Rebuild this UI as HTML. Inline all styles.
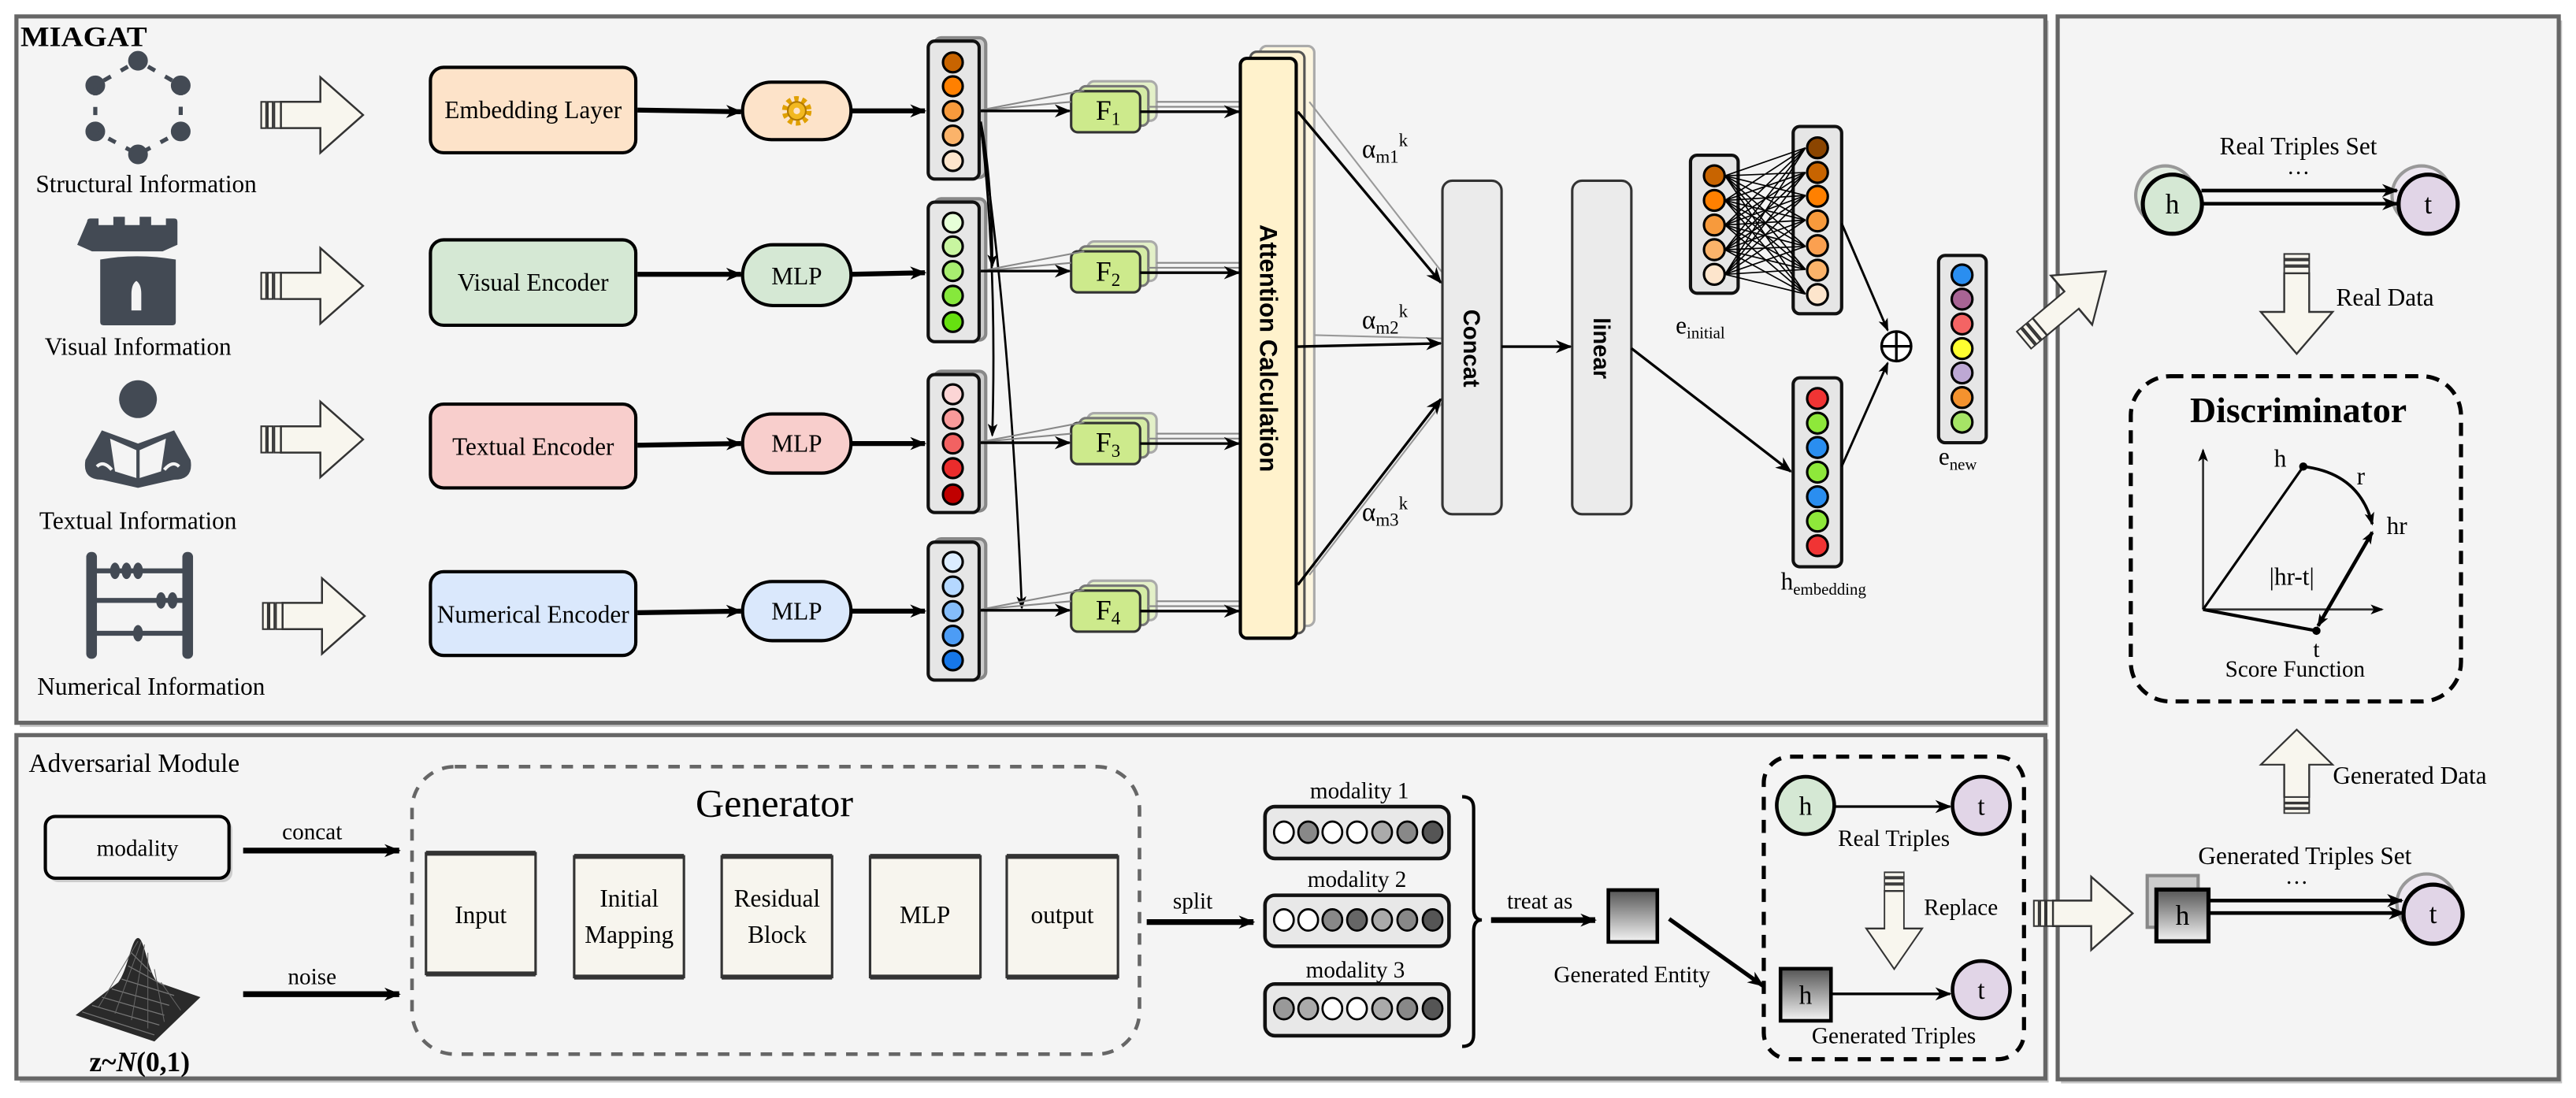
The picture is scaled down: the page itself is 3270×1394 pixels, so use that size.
<!DOCTYPE html>
<html><head><meta charset="utf-8"><style>
html,body{margin:0;padding:0;background:#fff;}
svg{display:block;font-family:"Liberation Serif","DejaVu Serif","Noto Serif CJK SC",serif;}
svg text{font-family:"Liberation Serif","DejaVu Serif","Noto Serif CJK SC",serif;fill:#000;}
svg text.sans{font-family:"Liberation Sans","DejaVu Sans",sans-serif;font-weight:bold;}
</style></head><body>
<svg width="3270" height="1394" viewBox="0 0 1568 668.4" preserveAspectRatio="none" xmlns="http://www.w3.org/2000/svg" font-family="Liberation Serif, DejaVu Serif, serif">
<defs>
<marker id="ah" markerWidth="10" markerHeight="8" refX="9" refY="4" orient="auto" markerUnits="userSpaceOnUse"><path d="M0,0 L10,4 L0,8 L3,4 Z" fill="#000"/></marker>
<marker id="ahs" markerWidth="8" markerHeight="6" refX="7" refY="3" orient="auto" markerUnits="userSpaceOnUse"><path d="M0,0 L8,3 L0,6 L2,3 Z" fill="#000"/></marker>
<marker id="ahb" markerWidth="8" markerHeight="6" refX="1" refY="3" orient="auto" markerUnits="userSpaceOnUse"><path d="M8,0 L0,3 L8,6 L6,3 Z" fill="#000"/></marker>
<linearGradient id="gsq" x1="0" y1="0" x2="0" y2="1"><stop offset="0" stop-color="#555"/><stop offset="1" stop-color="#f4f4f4"/></linearGradient>
<g id="harrow">
<rect x="0" y="-8" width="3" height="16" fill="#f8f6ee" stroke="#333" stroke-width="1"/>
<rect x="4" y="-8" width="3" height="16" fill="#f8f6ee" stroke="#333" stroke-width="1"/>
<rect x="8" y="-8" width="4" height="16" fill="#f8f6ee" stroke="#333" stroke-width="1"/>
<path d="M12,-8 L36,-8 L36,-23 L62,0 L36,23 L36,8 L12,8 Z" fill="#f8f6ee" stroke="#333" stroke-width="1.2"/>
</g>
</defs>

<!-- panels -->
<rect x="12" y="12.5" width="1235" height="430" fill="#c4c4c4"/>
<rect x="10" y="10" width="1235" height="430" fill="#f4f4f4" stroke="#666" stroke-width="2.5"/>
<rect x="12" y="450" width="1235" height="209" fill="#c4c4c4"/>
<rect x="10" y="447.5" width="1235" height="209" fill="#f4f4f4" stroke="#666" stroke-width="2.5"/>
<rect x="1254.5" y="12.5" width="305" height="647" fill="#c4c4c4"/>
<rect x="1252.5" y="10" width="305" height="647" fill="#f4f4f4" stroke="#666" stroke-width="2.5"/>

<text x="12.5" y="28" font-size="17" font-weight="bold" textLength="77" lengthAdjust="spacingAndGlyphs">MIAGAT</text>

<!-- Structural icon -->
<g fill="#434a54" stroke="#434a54">
<ellipse cx="84" cy="37" rx="5.5" ry="5.5"/><ellipse cx="110" cy="52" rx="5.5" ry="5.5"/><ellipse cx="110" cy="80" rx="5.5" ry="5.5"/>
<ellipse cx="84" cy="94" rx="5.5" ry="5.5"/><ellipse cx="58" cy="80" rx="5.5" ry="5.5"/><ellipse cx="58" cy="52" rx="5.5" ry="5.5"/>
<path d="M84,37 L110,52 L110,80 L84,94 L58,80 L58,52 Z" fill="none" stroke-width="2.5" stroke-dasharray="5 7" stroke-dashoffset="-7"/>
</g>
<text x="89" y="117" font-size="15" text-anchor="middle">Structural Information</text>
<!-- Tower icon -->
<g fill="#434a54">
<path d="M53,135 q0,-2 2,-2 h5 v4 h9 v-5 h7 v5 h9 v-5 h7 v5 h9 v-4 h5 q2,0 2,2 v14 l-9,4 h-43 l-9,-4 Z"/>
<path d="M61,158 q22,-4 46,0 v38 q0,2 -2,2 h-42 q-2,0 -2,-2 Z"/>
</g>
<path d="M80,189 v-10 q0,-6 3,-8 q3,2 3,8 v10 Z" fill="#f4f4f4"/>
<text x="84" y="216" font-size="15" text-anchor="middle">Visual Information</text>
<!-- Reader icon -->
<g fill="#434a54">
<circle cx="84" cy="243" r="11.5"/>
<path d="M62,262 L84,270 L106,262 L116,280 Q118,292 106,292 L84,297 L62,292 Q50,292 52,280 Z"/>
</g>
<path d="M67,267 L83,274 L83,291 L70,287 Z M101,267 L85,274 L85,291 L98,287 Z" fill="#f4f4f4"/>
<path d="M59,284 Q63,280 68,286 M109,284 Q105,280 100,286" stroke="#f4f4f4" stroke-width="2" fill="none"/>
<text x="84" y="322" font-size="15" text-anchor="middle">Textual Information</text>
<!-- Abacus icon -->
<g fill="#434a54">
<rect x="52.5" y="336" width="6.5" height="65" rx="3"/>
<rect x="111" y="336" width="6.5" height="65" rx="3"/>
<rect x="58" y="346" width="54" height="3"/><rect x="58" y="364" width="54" height="3"/><rect x="58" y="384" width="54" height="3"/>
<ellipse cx="70" cy="347.5" rx="3" ry="5"/><ellipse cx="77" cy="347.5" rx="3" ry="5"/><ellipse cx="84" cy="347.5" rx="3" ry="5"/>
<ellipse cx="98" cy="365.5" rx="3" ry="5"/><ellipse cx="105" cy="365.5" rx="3" ry="5"/>
<ellipse cx="84" cy="385.5" rx="3" ry="5"/>
</g>
<text x="92" y="423" font-size="15" text-anchor="middle">Numerical Information</text>

<!-- hollow arrows left -->
<use href="#harrow" transform="translate(159,70)"/>
<use href="#harrow" transform="translate(159,174)"/>
<use href="#harrow" transform="translate(159,267.5)"/>
<use href="#harrow" transform="translate(160,375)"/>

<!-- encoder boxes -->
<g stroke="#000" stroke-width="2">
<rect x="262" y="41" width="125" height="52" rx="8" fill="#fde3c9"/>
<rect x="262" y="146" width="125" height="52" rx="8" fill="#d5e8d4"/>
<rect x="262" y="246" width="125" height="51" rx="8" fill="#f8cecc"/>
<rect x="262" y="348" width="125" height="51" rx="8" fill="#dae8fc"/>
</g>
<text x="324.5" y="72" font-size="15" text-anchor="middle">Embedding Layer</text>
<text x="324.5" y="177" font-size="15" text-anchor="middle" fill="#334">Visual Encoder</text>
<text x="324.5" y="277" font-size="15" text-anchor="middle">Textual Encoder</text>
<text x="324.5" y="379" font-size="15" text-anchor="middle">Numerical Encoder</text>

<!-- ovals -->
<g stroke="#000" stroke-width="2">
<rect x="452" y="50" width="66" height="35" rx="17.5" fill="#fde3c9"/>
<rect x="452" y="149" width="66" height="37" rx="18.5" fill="#d5e8d4"/>
<rect x="452" y="252" width="66" height="36" rx="18" fill="#f8cecc"/>
<rect x="452" y="354" width="66" height="36" rx="18" fill="#dae8fc"/>
</g>
<circle cx="485" cy="67.5" r="7" fill="none" stroke="#e0a000" stroke-width="4" stroke-dasharray="2.5 2"/>
<circle cx="485" cy="67.5" r="5.5" fill="#f2b820" stroke="#b07800" stroke-width="1"/>
<circle cx="485" cy="67.5" r="2" fill="#fde3c9"/>
<text x="485" y="173" font-size="15" text-anchor="middle">MLP</text>
<text x="485" y="275" font-size="15" text-anchor="middle">MLP</text>
<text x="485" y="377" font-size="15" text-anchor="middle">MLP</text>

<!-- box to oval arrows -->
<g stroke="#000" stroke-width="3" marker-end="url(#ah)">
<line x1="388" y1="67" x2="451" y2="68"/>
<line x1="388" y1="167" x2="451" y2="167"/>
<line x1="388" y1="271" x2="451" y2="270"/>
<line x1="388" y1="373" x2="451" y2="372"/>
<line x1="518" y1="67.5" x2="563" y2="67.5"/>
<line x1="518" y1="167" x2="563" y2="166"/>
<line x1="518" y1="270" x2="563" y2="270"/>
<line x1="518" y1="372" x2="563" y2="372"/>
</g>

<!-- vector columns -->
<g stroke-width="2">
<rect x="569" y="23" width="31" height="85" rx="4" fill="#ccc" stroke="#888"/>
<rect x="565" y="25" width="31" height="84" rx="4" fill="#e6e6e6" stroke="#111"/>
<rect x="569" y="121" width="31" height="86" rx="4" fill="#ccc" stroke="#888"/>
<rect x="565" y="123" width="31" height="85" rx="4" fill="#e6e6e6" stroke="#111"/>
<rect x="569" y="226" width="31" height="85" rx="4" fill="#ccc" stroke="#888"/>
<rect x="565" y="228" width="31" height="84" rx="4" fill="#e6e6e6" stroke="#111"/>
<rect x="569" y="328" width="31" height="85" rx="4" fill="#ccc" stroke="#888"/>
<rect x="565" y="330" width="31" height="84" rx="4" fill="#e6e6e6" stroke="#111"/>
</g>
<g stroke="#000" stroke-width="1.5">
<circle cx="580" cy="38" r="6" fill="#c86400"/><circle cx="580" cy="52.5" r="6" fill="#ff8000"/><circle cx="580" cy="67.5" r="6" fill="#f79a3c"/><circle cx="580" cy="82.5" r="6" fill="#fbb36a"/><circle cx="580" cy="98" r="6" fill="#fde5cc"/>
<circle cx="580" cy="135.5" r="6" fill="#e6ffd8"/><circle cx="580" cy="150" r="6" fill="#c8f5a0"/><circle cx="580" cy="165" r="6" fill="#a8ee70"/><circle cx="580" cy="180" r="6" fill="#86e83c"/><circle cx="580" cy="196" r="6" fill="#66e010"/>
<circle cx="580" cy="240" r="6" fill="#fcd5d5"/><circle cx="580" cy="255" r="6" fill="#f89a9a"/><circle cx="580" cy="270" r="6" fill="#f26262"/><circle cx="580" cy="285" r="6" fill="#ea2c2c"/><circle cx="580" cy="301" r="6" fill="#c00000"/>
<circle cx="580" cy="342" r="6" fill="#dcedff"/><circle cx="580" cy="357" r="6" fill="#b5d8ff"/><circle cx="580" cy="372" r="6" fill="#85bdfa"/><circle cx="580" cy="387" r="6" fill="#4c9cf5"/><circle cx="580" cy="402" r="6" fill="#1677e8"/>
</g>

<!-- cross arrows -->
<g stroke="#000" stroke-width="1.3" fill="none" marker-end="url(#ahs)">
<path d="M597,74 Q604,110 604,162"/>
<path d="M597,76 Q607,160 604,265"/>
<path d="M597,78 Q615,200 622,370"/>
</g>

<!-- F boxes -->
<g>
<rect x="662" y="49.5" width="42" height="24" rx="4" fill="#e3f0c8" stroke="#aaa" stroke-width="1.5"/>
<rect x="657" y="52.5" width="42" height="24" rx="4" fill="#d5eca5" stroke="#777" stroke-width="1.5"/>
<rect x="652" y="55.5" width="42" height="25" rx="4" fill="#cdea8c" stroke="#333" stroke-width="1.5"/>
<rect x="662" y="147" width="42" height="24" rx="4" fill="#e3f0c8" stroke="#aaa" stroke-width="1.5"/>
<rect x="657" y="150" width="42" height="24" rx="4" fill="#d5eca5" stroke="#777" stroke-width="1.5"/>
<rect x="652" y="153" width="42" height="25" rx="4" fill="#cdea8c" stroke="#333" stroke-width="1.5"/>
<rect x="662" y="251.5" width="42" height="24" rx="4" fill="#e3f0c8" stroke="#aaa" stroke-width="1.5"/>
<rect x="657" y="254.5" width="42" height="24" rx="4" fill="#d5eca5" stroke="#777" stroke-width="1.5"/>
<rect x="652" y="257.5" width="42" height="25" rx="4" fill="#cdea8c" stroke="#333" stroke-width="1.5"/>
<rect x="662" y="353.5" width="42" height="24" rx="4" fill="#e3f0c8" stroke="#aaa" stroke-width="1.5"/>
<rect x="657" y="356.5" width="42" height="24" rx="4" fill="#d5eca5" stroke="#777" stroke-width="1.5"/>
<rect x="652" y="359.5" width="42" height="25" rx="4" fill="#cdea8c" stroke="#333" stroke-width="1.5"/>
</g>
<text x="667" y="73" font-size="17">F<tspan font-size="11" dy="3">1</tspan></text>
<text x="667" y="171" font-size="17">F<tspan font-size="11" dy="3">2</tspan></text>
<text x="667" y="275" font-size="17">F<tspan font-size="11" dy="3">3</tspan></text>
<text x="667" y="377" font-size="17">F<tspan font-size="11" dy="3">4</tspan></text>
<g stroke="#888" stroke-width="1">
<line x1="597" y1="67" x2="660" y2="55"/><line x1="597" y1="67" x2="652" y2="62"/>
<line x1="597" y1="165" x2="660" y2="153"/><line x1="597" y1="165" x2="652" y2="160"/>
<line x1="597" y1="269" x2="660" y2="257"/><line x1="597" y1="269" x2="652" y2="264"/>
<line x1="597" y1="371" x2="660" y2="359"/><line x1="597" y1="371" x2="652" y2="366"/>
<line x1="704" y1="62" x2="756" y2="62"/><line x1="699" y1="65" x2="756" y2="65"/>
<line x1="704" y1="160" x2="756" y2="160"/><line x1="699" y1="163" x2="756" y2="163"/>
<line x1="704" y1="264" x2="756" y2="264"/><line x1="699" y1="267" x2="756" y2="267"/>
<line x1="704" y1="366" x2="756" y2="366"/><line x1="699" y1="369" x2="756" y2="369"/>
</g>
<g stroke="#000" stroke-width="1.6" marker-end="url(#ah)">
<line x1="597" y1="67.5" x2="651" y2="67.5"/>
<line x1="597" y1="165" x2="651" y2="165"/>
<line x1="597" y1="269.5" x2="651" y2="269.5"/>
<line x1="597" y1="371.5" x2="651" y2="371.5"/>
<line x1="694" y1="68" x2="754" y2="68"/>
<line x1="694" y1="166" x2="754" y2="166"/>
<line x1="694" y1="270" x2="754" y2="270"/>
<line x1="694" y1="372" x2="754" y2="372"/>
</g>

<!-- Attention -->
<rect x="767" y="28" width="33" height="353" rx="4" fill="#fdf6e0" stroke="#aaa" stroke-width="1.5"/>
<rect x="761" y="31.5" width="33" height="354" rx="4" fill="#fcf0d0" stroke="#555" stroke-width="1.5"/>
<rect x="755" y="35.5" width="34" height="353" rx="4" fill="#fff2cc" stroke="#000" stroke-width="2"/>
<text class="sans" x="0" y="0" font-size="15" text-anchor="middle" transform="translate(767,212) rotate(90)">Attention Calculation</text>

<!-- to concat -->
<g stroke="#999" stroke-width="1">
<line x1="797" y1="62" x2="878" y2="166"/><line x1="800" y1="204" x2="878" y2="206"/><line x1="797" y1="350" x2="878" y2="245"/>
</g>
<g stroke="#000" stroke-width="1.6" marker-end="url(#ah)">
<line x1="790" y1="68" x2="877" y2="172"/>
<line x1="790" y1="211" x2="877" y2="209"/>
<line x1="790" y1="356" x2="877" y2="243"/>
</g>
<text x="829" y="96" font-size="16">α<tspan font-size="11" dy="3">m1</tspan><tspan font-size="11" dy="-10">k</tspan></text>
<text x="829" y="200" font-size="16">α<tspan font-size="11" dy="3">m2</tspan><tspan font-size="11" dy="-10">k</tspan></text>
<text x="829" y="317" font-size="16">α<tspan font-size="11" dy="3">m3</tspan><tspan font-size="11" dy="-10">k</tspan></text>

<rect x="878" y="110" width="36" height="203" rx="6" fill="#ebebeb" stroke="#333" stroke-width="1.5"/>
<rect x="957" y="110" width="36" height="203" rx="6" fill="#ebebeb" stroke="#333" stroke-width="1.5"/>
<text class="sans" x="0" y="0" font-size="14" text-anchor="middle" transform="translate(891,212) rotate(90)">Concat</text>
<text class="sans" x="0" y="0" font-size="14" text-anchor="middle" transform="translate(970,212) rotate(90)">linear</text>
<g stroke="#000" stroke-width="1.6" marker-end="url(#ah)">
<line x1="914" y1="211" x2="956" y2="211"/>
<line x1="993" y1="212" x2="1090" y2="287"/>
</g>

<!-- e_initial -->
<rect x="1029" y="94.5" width="29" height="84" rx="4" fill="#e6e6e6" stroke="#111" stroke-width="2"/>
<rect x="1091.5" y="77" width="29.5" height="114" rx="4" fill="#e6e6e6" stroke="#111" stroke-width="2"/>
<path stroke="#000" stroke-width="0.8" fill="none" d="
M1050,107L1099,90M1050,107L1099,105M1050,107L1099,119M1050,107L1099,134M1050,107L1099,150M1050,107L1099,164M1050,107L1099,179
M1050,122L1099,90M1050,122L1099,105M1050,122L1099,119M1050,122L1099,134M1050,122L1099,150M1050,122L1099,164M1050,122L1099,179
M1050,137L1099,90M1050,137L1099,105M1050,137L1099,119M1050,137L1099,134M1050,137L1099,150M1050,137L1099,164M1050,137L1099,179
M1050,152L1099,90M1050,152L1099,105M1050,152L1099,119M1050,152L1099,134M1050,152L1099,150M1050,152L1099,164M1050,152L1099,179
M1050,167L1099,90M1050,167L1099,105M1050,167L1099,119M1050,167L1099,134M1050,167L1099,150M1050,167L1099,164M1050,167L1099,179"/>
<g stroke="#000" stroke-width="1.5">
<circle cx="1043.5" cy="107" r="6.3" fill="#c86400"/><circle cx="1043.5" cy="122" r="6.3" fill="#ff8000"/><circle cx="1043.5" cy="137" r="6.3" fill="#f79a3c"/><circle cx="1043.5" cy="152" r="6.3" fill="#fbb36a"/><circle cx="1043.5" cy="167" r="6.3" fill="#fde5cc"/>
<circle cx="1106.3" cy="90" r="6.3" fill="#8b4500"/><circle cx="1106.3" cy="105" r="6.3" fill="#c86400"/><circle cx="1106.3" cy="119.5" r="6.3" fill="#ff8000"/><circle cx="1106.3" cy="134.5" r="6.3" fill="#f79a3c"/><circle cx="1106.3" cy="149.5" r="6.3" fill="#fba050"/><circle cx="1106.3" cy="164.5" r="6.3" fill="#fbb36a"/><circle cx="1106.3" cy="179.3" r="6.3" fill="#fde5cc"/>
</g>
<text x="1020" y="203" font-size="15">e<tspan font-size="10" dy="3">initial</tspan></text>

<!-- h_embedding -->
<rect x="1091.5" y="230" width="29.5" height="115" rx="4" fill="#e6e6e6" stroke="#111" stroke-width="2"/>
<g stroke="#000" stroke-width="1.5">
<circle cx="1106.3" cy="242.6" r="6.3" fill="#f03434"/><circle cx="1106.3" cy="257.6" r="6.3" fill="#8ee83a"/><circle cx="1106.3" cy="272.4" r="6.3" fill="#2a8ef0"/><circle cx="1106.3" cy="287.4" r="6.3" fill="#8ee83a"/><circle cx="1106.3" cy="302.4" r="6.3" fill="#2a8ef0"/><circle cx="1106.3" cy="317.2" r="6.3" fill="#8ee83a"/><circle cx="1106.3" cy="332.2" r="6.3" fill="#f03434"/>
</g>
<text x="1084" y="359" font-size="15">h<tspan font-size="10" dy="3">embedding</tspan></text>

<!-- oplus -->
<g stroke="#000" stroke-width="1.4" marker-end="url(#ahs)">
<line x1="1121" y1="136" x2="1149" y2="201"/>
<line x1="1121" y1="284" x2="1149" y2="221"/>
</g>
<circle cx="1154.3" cy="210.8" r="9" fill="#fff" stroke="#000" stroke-width="1.6"/>
<line x1="1145.3" y1="210.8" x2="1163.3" y2="210.8" stroke="#000" stroke-width="1.6"/>
<line x1="1154.3" y1="201.8" x2="1154.3" y2="219.8" stroke="#000" stroke-width="1.6"/>

<!-- e_new -->
<rect x="1180" y="155.5" width="29" height="114" rx="4" fill="#e6e6e6" stroke="#111" stroke-width="2"/>
<g stroke="#000" stroke-width="1.5">
<circle cx="1194.3" cy="167.4" r="6.3" fill="#2a8ef0"/><circle cx="1194.3" cy="182.1" r="6.3" fill="#a86494"/><circle cx="1194.3" cy="197.2" r="6.3" fill="#f46464"/><circle cx="1194.3" cy="212.2" r="6.3" fill="#ffff30"/><circle cx="1194.3" cy="227" r="6.3" fill="#bda8d4"/><circle cx="1194.3" cy="242" r="6.3" fill="#f4922e"/><circle cx="1194.3" cy="257" r="6.3" fill="#a6e466"/>
</g>
<text x="1180" y="283" font-size="15">e<tspan font-size="10" dy="3">new</tspan></text>

<!-- diagonal arrow -->
<use href="#harrow" transform="translate(1232,207) rotate(-40) scale(1.05,0.85)"/>

<!-- Right panel -->
<text x="1399" y="94" font-size="15" text-anchor="middle">Real Triples Set</text>
<text x="1399" y="106" font-size="14" text-anchor="middle">…</text>
<circle cx="1318" cy="119" r="18" fill="#e4eee3" stroke="#999" stroke-width="2"/>
<circle cx="1474" cy="119" r="18" fill="#ece6ef" stroke="#999" stroke-width="2"/>
<g stroke="#000" stroke-width="2.2" marker-end="url(#ah)">
<line x1="1340" y1="116" x2="1459" y2="116"/>
<line x1="1340" y1="124" x2="1459" y2="124"/>
</g>
<circle cx="1322.3" cy="124.3" r="18" fill="#d5e8d4" stroke="#000" stroke-width="2.5"/>
<circle cx="1478" cy="124.3" r="18" fill="#e1d5e7" stroke="#000" stroke-width="2.5"/>
<text x="1322.3" y="130" font-size="17" text-anchor="middle">h</text>
<text x="1478" y="130" font-size="17" text-anchor="middle">t</text>

<use href="#harrow" transform="translate(1398,154.6) rotate(90) scale(0.98,0.95)"/>
<text x="1422" y="186" font-size="15">Real Data</text>

<rect x="1297" y="229" width="201" height="198" rx="24" fill="none" stroke="#000" stroke-width="2.5" stroke-dasharray="8 5"/>
<text x="1399" y="257" font-size="22" font-weight="bold" text-anchor="middle">Discriminator</text>
<g stroke="#333" stroke-width="1.3" marker-end="url(#ahs)">
<line x1="1341" y1="371" x2="1341" y2="274"/>
<line x1="1341" y1="371" x2="1450" y2="371"/>
</g>
<line x1="1341" y1="371" x2="1402" y2="284" stroke="#000" stroke-width="1.5"/>
<line x1="1341" y1="371" x2="1410" y2="384" stroke="#000" stroke-width="2"/>
<path d="M1402,284 Q1436,288 1444,319" fill="none" stroke="#000" stroke-width="1.8" marker-end="url(#ahs)"/>
<line x1="1411" y1="381" x2="1444" y2="324" stroke="#000" stroke-width="2.2" marker-end="url(#ahs)" marker-start="url(#ahb)"/>
<circle cx="1402" cy="284" r="2.5" fill="#000"/><circle cx="1410" cy="384" r="2.5" fill="#000"/>
<text x="1388" y="284" font-size="15" text-anchor="middle">h</text>
<text x="1437" y="295" font-size="15" text-anchor="middle">r</text>
<text x="1459" y="325" font-size="15" text-anchor="middle">hr</text>
<text x="1395" y="356" font-size="15" text-anchor="middle">|hr-t|</text>
<text x="1410" y="400" font-size="14" text-anchor="middle">t</text>
<text x="1397" y="412" font-size="14" text-anchor="middle">Score Function</text>

<use href="#harrow" transform="translate(1398,495) rotate(-90) scale(0.82,0.95)"/>
<text x="1420" y="477" font-size="15">Generated Data</text>

<text x="1403" y="526" font-size="15" text-anchor="middle">Generated Triples Set</text>
<text x="1398" y="538" font-size="14" text-anchor="middle">…</text>
<rect x="1307" y="533" width="31" height="31.5" fill="#ccc" stroke="#888" stroke-width="2"/>
<circle cx="1477" cy="550" r="18" fill="#ece6ef" stroke="#999" stroke-width="2"/>
<g stroke="#000" stroke-width="2.2" marker-end="url(#ah)">
<line x1="1344" y1="548.2" x2="1462" y2="548.2"/>
<line x1="1344" y1="555.8" x2="1463" y2="555.8"/>
</g>
<rect x="1312.6" y="541.5" width="31.7" height="31.5" fill="url(#gsq)" stroke="#000" stroke-width="2.5"/>
<circle cx="1481" cy="556.5" r="18" fill="#e1d5e7" stroke="#000" stroke-width="2.5"/>
<text x="1328.5" y="563" font-size="17" text-anchor="middle">h</text>
<text x="1481" y="562" font-size="17" text-anchor="middle">t</text>

<use href="#harrow" transform="translate(1238,556) scale(0.97,0.97)"/>

<!-- Adversarial module -->
<text x="17.5" y="470" font-size="16">Adversarial Module</text>
<rect x="29.5" y="499" width="112" height="38" rx="6" fill="#ccc"/>
<rect x="27.6" y="497" width="111.8" height="37.6" rx="6" fill="#f4f4f4" stroke="#000" stroke-width="2"/>
<text x="83.7" y="521" font-size="14" text-anchor="middle">modality</text>
<g stroke="#000" stroke-width="3.5" marker-end="url(#ah)">
<line x1="148" y1="517.8" x2="243" y2="517.8"/>
<line x1="148" y1="605.2" x2="243" y2="605.2"/>
</g>
<text x="190" y="511" font-size="14" text-anchor="middle">concat</text>
<text x="190" y="599" font-size="14" text-anchor="middle">noise</text>
<!-- gaussian -->
<path d="M84,571 C88,571 90,592 96,598 L122,607 L94,634 L46,618 L72,598 C78,590 80,571 84,571 Z" fill="#2a2a2a"/>
<path d="M50,616 L94,630 M56,612 L97,624 M62,607 L100,618 M68,602 L103,612 M74,596 L106,606 M78,588 L100,600 M80,580 L92,592" stroke="#777" stroke-width="0.6" fill="none"/>
<path d="M60,613 L84,573 M70,617 L86,573 M80,621 L88,575 M90,626 L90,580 M100,622 L94,590 M110,615 L98,598" stroke="#666" stroke-width="0.5" fill="none"/>
<text x="85" y="652" font-size="17" font-weight="bold" text-anchor="middle">z~<tspan font-style="italic">N</tspan>(0,1)</text>

<rect x="250.8" y="466.7" width="442.8" height="175" rx="26" fill="none" stroke="#666" stroke-width="2.2" stroke-dasharray="7 6"/>
<text x="471.4" y="497" font-size="24" text-anchor="middle">Generator</text>
<g fill="#f7f5ee" stroke="#333" stroke-width="1.5">
<rect x="259.3" y="519.4" width="66.7" height="73.5"/>
<rect x="349.5" y="521.3" width="66.8" height="73.5"/>
<rect x="439.3" y="521.3" width="67.2" height="73.5"/>
<rect x="529.6" y="521.3" width="67.2" height="73.5"/>
<rect x="612.8" y="521.3" width="67.7" height="73.5"/>
</g>
<g stroke="#333" stroke-width="3">
<line x1="259.3" y1="519.4" x2="326" y2="519.4"/><line x1="259.3" y1="592.9" x2="326" y2="592.9"/>
<line x1="349.5" y1="521.3" x2="416.3" y2="521.3"/><line x1="349.5" y1="594.8" x2="416.3" y2="594.8"/>
<line x1="439.3" y1="521.3" x2="506.5" y2="521.3"/><line x1="439.3" y1="594.8" x2="506.5" y2="594.8"/>
<line x1="529.6" y1="521.3" x2="596.8" y2="521.3"/><line x1="529.6" y1="594.8" x2="596.8" y2="594.8"/>
<line x1="612.8" y1="521.3" x2="680.5" y2="521.3"/><line x1="612.8" y1="594.8" x2="680.5" y2="594.8"/>
</g>
<text x="292.6" y="562" font-size="15" text-anchor="middle">Input</text>
<text x="383" y="552" font-size="15" text-anchor="middle">Initial</text>
<text x="383" y="574" font-size="15" text-anchor="middle">Mapping</text>
<text x="473" y="552" font-size="15" text-anchor="middle">Residual</text>
<text x="473" y="574" font-size="15" text-anchor="middle">Block</text>
<text x="563" y="562" font-size="15" text-anchor="middle">MLP</text>
<text x="646.6" y="562" font-size="15" text-anchor="middle">output</text>

<line x1="698" y1="561.3" x2="763" y2="561.3" stroke="#000" stroke-width="3.5" marker-end="url(#ah)"/>
<text x="726" y="553" font-size="14" text-anchor="middle">split</text>

<!-- modality boxes -->
<text x="827.5" y="486" font-size="14" text-anchor="middle">modality 1</text>
<text x="826" y="540" font-size="14" text-anchor="middle">modality 2</text>
<text x="825" y="595" font-size="14" text-anchor="middle">modality 3</text>
<g fill="#e8e8e8" stroke="#111" stroke-width="2.2">
<rect x="770" y="491" width="112" height="31.6" rx="6"/>
<rect x="770" y="545" width="112" height="31" rx="6"/>
<rect x="770" y="599" width="112" height="31.5" rx="6"/>
</g>
<g stroke="#000" stroke-width="1.3">
<ellipse cx="781.5" cy="506.6" rx="6" ry="6.5" fill="#fff"/><ellipse cx="796.3" cy="506.6" rx="6" ry="6.5" fill="#888"/><ellipse cx="811" cy="506.6" rx="6" ry="6.5" fill="#fff"/><ellipse cx="826" cy="506.6" rx="6" ry="6.5" fill="#fff"/><ellipse cx="841.3" cy="506.6" rx="6" ry="6.5" fill="#aaa"/><ellipse cx="856.6" cy="506.6" rx="6" ry="6.5" fill="#888"/><ellipse cx="872" cy="506.6" rx="6" ry="6.5" fill="#555"/>
<ellipse cx="781.5" cy="560" rx="6" ry="6.5" fill="#fff"/><ellipse cx="796.3" cy="560" rx="6" ry="6.5" fill="#fff"/><ellipse cx="811" cy="560" rx="6" ry="6.5" fill="#888"/><ellipse cx="826" cy="560" rx="6" ry="6.5" fill="#666"/><ellipse cx="841.3" cy="560" rx="6" ry="6.5" fill="#aaa"/><ellipse cx="856.6" cy="560" rx="6" ry="6.5" fill="#888"/><ellipse cx="872" cy="560" rx="6" ry="6.5" fill="#555"/>
<ellipse cx="781.5" cy="614" rx="6" ry="6.5" fill="#999"/><ellipse cx="796.3" cy="614" rx="6" ry="6.5" fill="#aaa"/><ellipse cx="811" cy="614" rx="6" ry="6.5" fill="#fff"/><ellipse cx="826" cy="614" rx="6" ry="6.5" fill="#fff"/><ellipse cx="841.3" cy="614" rx="6" ry="6.5" fill="#aaa"/><ellipse cx="856.6" cy="614" rx="6" ry="6.5" fill="#888"/><ellipse cx="872" cy="614" rx="6" ry="6.5" fill="#555"/>
</g>
<path d="M890,485 Q897,485 897,492 L897,553 Q897,560 902,560 Q897,560 897,567 L897,630 Q897,637 890,637" stroke="#000" stroke-width="2" fill="none"/>
<line x1="907.6" y1="560.1" x2="971" y2="560.1" stroke="#000" stroke-width="3.5" marker-end="url(#ah)"/>
<text x="937.3" y="553" font-size="14" text-anchor="middle">treat as</text>
<rect x="979" y="541.8" width="29.8" height="31.6" fill="url(#gsq)" stroke="#000" stroke-width="2.2"/>
<line x1="1016" y1="559.4" x2="1073" y2="600" stroke="#000" stroke-width="2.5" marker-end="url(#ah)"/>
<text x="993.4" y="598" font-size="14" text-anchor="middle">Generated Entity</text>

<!-- Real/Generated triples box -->
<rect x="1073.6" y="460.6" width="158.4" height="184.2" rx="16" fill="none" stroke="#000" stroke-width="2.5" stroke-dasharray="8 6"/>
<line x1="1117" y1="491" x2="1187" y2="491" stroke="#000" stroke-width="1.6" marker-end="url(#ah)"/>
<circle cx="1099" cy="490.3" r="17.5" fill="#d5e8d4" stroke="#000" stroke-width="2.2"/>
<circle cx="1206" cy="490.3" r="17.5" fill="#e1d5e7" stroke="#000" stroke-width="2.2"/>
<text x="1099" y="496" font-size="16" text-anchor="middle">h</text>
<text x="1206" y="496" font-size="16" text-anchor="middle">t</text>
<text x="1152.8" y="515" font-size="14" text-anchor="middle">Real Triples</text>
<use href="#harrow" transform="translate(1153,531) rotate(90) scale(0.95,0.74)"/>
<text x="1193.6" y="557" font-size="14" text-anchor="middle">Replace</text>
<line x1="1114.5" y1="605" x2="1187" y2="605" stroke="#000" stroke-width="1.6" marker-end="url(#ah)"/>
<rect x="1083.8" y="589.7" width="30.7" height="31.7" fill="url(#gsq)" stroke="#000" stroke-width="2.2"/>
<circle cx="1206" cy="602.5" r="17.5" fill="#e1d5e7" stroke="#000" stroke-width="2.2"/>
<text x="1099" y="611" font-size="16" text-anchor="middle">h</text>
<text x="1206" y="608" font-size="16" text-anchor="middle">t</text>
<text x="1152.8" y="635" font-size="14" text-anchor="middle">Generated Triples</text>
</svg>
</body></html>
